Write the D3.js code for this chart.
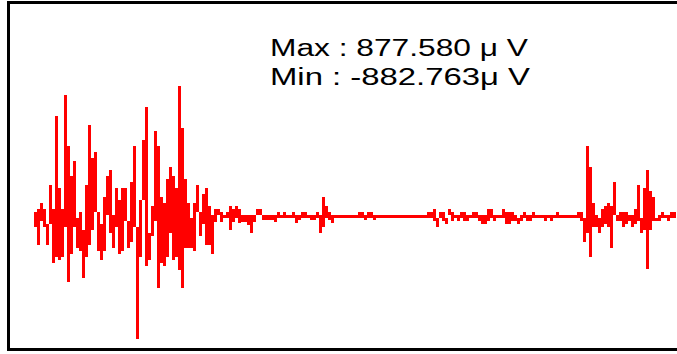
<!DOCTYPE html>
<html>
<head>
<meta charset="utf-8">
<script src="https://cdn.jsdelivr.net/npm/d3@7"></script>
<style>
  html, body { margin: 0; padding: 0; background: #fff; }
  svg { display: block; }
</style>
</head>
<body>
<svg id="chart" width="677" height="354"></svg>
<script>
// Per-pixel-column envelope of the waveform (μV): upper and lower value in each column
const columnMax = [
  -10, 12, 54, 12, -94, 180, 12, 666, 159, 12,
  814, 455, 244, 350, -52, -10, -136, 180, 603, 371,
  413, -10, -94, 96, 244, 286, -31, 159, 75, 159,
  159, -73, 202, 455, -115, 75, 497, 730, -158, 33,
  561, 455, 96, 54, 223, 307, 244, 159, 877.58, 582,
  223, 54, -52, 54, 180, -10, 117, 159, 33, -31,
  12, 12, -10, -31, -10, 33, 12, 33, 12, -31,
  -31, -31, -31, -31, 12, 12, -31, -31, -31, -31,
  -31, -10, -31, -10, -31, -31, -10, -31, -31, -10,
  -10, -31, -31, -31, -10, -31, 96, 33, -10, -31,
  -31, -31, -31, -31, -31, -31, -31, -31, -10, -10,
  -31, -10, -10, -31, -31, -31, -31, -31, -31, -31,
  -31, -31, -31, -31, -31, -31, -31, -31, -31, -31,
  -31, -10, -10, 12, -52, -10, -10, -52, 12, -10,
  -31, -31, -10, -10, -31, -31, -10, -10, -31, -31,
  -31, 12, 12, -31, -31, -31, 12, -10, -10, -10,
  -31, -52, -31, -10, -31, -31, -10, -31, -31, -31,
  -31, -31, -31, -31, -10, -31, -31, -31, -31, -31,
  -31, -10, -10, -52, 455, 307, 54, -31, -52, 12,
  33, 54, 33, 202, -31, -10, -10, -10, -31, -31,
  12, 180, -52, 159, 286, 138, 96, -52, -31, -10,
  -31, -31, -10, -10
];
const columnMin = [
  -94, -221, -52, -94, -221, -73, -348, -305, -327, -305,
  -94, -481, -284, -94, -242, -263, -453, -305, -221, -115,
  12, -263, -327, -263, -10, -136, -242, -94, -284, -263,
  -52, -242, -200, -94, -882.763, -305, 96, -369, -327, -158,
  -52, -524, -348, -369, -305, -136, -327, -305, -397, -524,
  -242, -242, -242, -263, 12, -158, -73, -221, -221, -284,
  -59, -10, -59, -31, -31, -115, -59, -31, -66, -59,
  -59, -80, -136, -59, -10, -10, -45, -45, -45, -45,
  -59, -31, -31, -31, -31, -31, -31, -66, -45, -31,
  -31, -31, -45, -45, -31, -136, -94, -31, -45, -66,
  -31, -31, -31, -31, -31, -31, -31, -31, -31, -31,
  -45, -31, -31, -45, -31, -31, -31, -31, -31, -31,
  -31, -31, -31, -31, -31, -31, -31, -31, -31, -31,
  -31, -31, -31, -52, -94, -31, -52, -73, -10, -52,
  -31, -52, -31, -52, -52, -31, -31, -31, -52, -73,
  -73, -52, -31, -52, -31, -31, -31, -73, -73, -52,
  -52, -73, -52, -31, -52, -52, -31, -31, -31, -31,
  -52, -31, -52, -31, -31, -31, -31, -31, -31, -31,
  -31, -31, -52, -200, -136, -305, -94, -94, -136, -94,
  -73, -94, -242, -10, -52, -52, -94, -73, -52, -94,
  -73, -52, -136, -115, -390, -115, -52, -52, -52, -31,
  -31, -52, -31, -31
];
const maxValue = 877.580;
const minValue = -882.763;
const labelLines = ["Max : 877.580 \u03bc V", "Min : -882.763\u03bc V"];

const svg = d3.select("#chart");
const N = columnMax.length;
const stroke = 3;

const x = d3.scaleLinear().domain([0, N]).range([34, 34 + 3 * N]);
const y = d3.scaleLinear().domain([minValue, maxValue]).range([337.5, 87.5]);

svg.append("rect").attr("width", 677).attr("height", 354).attr("fill", "#fff");

// waveform columns
svg.append("g")
  .attr("shape-rendering", "crispEdges")
  .selectAll("rect")
  .data(d3.range(N))
  .join("rect")
  .attr("x", i => x(i))
  .attr("width", i => x(i + 1) - x(i))
  .attr("y", i => y(columnMax[i]) - stroke / 2)
  .attr("height", i => y(columnMin[i]) - y(columnMax[i]) + stroke)
  .attr("fill", "#ff0000");

// frame
svg.append("rect")
  .attr("x", 8.5).attr("y", 2.5)
  .attr("width", 720).attr("height", 347)
  .attr("fill", "none")
  .attr("stroke", "#000")
  .attr("stroke-width", 3)
  .attr("shape-rendering", "crispEdges");

// labels
const baselines = [56, 85];
const widths = [258, 260];
svg.selectAll("text.lbl")
  .data(labelLines)
  .join("text")
  .attr("class", "lbl")
  .attr("x", 270)
  .attr("y", (d, i) => baselines[i])
  .attr("textLength", (d, i) => widths[i])
  .attr("lengthAdjust", "spacingAndGlyphs")
  .attr("font-family", "'Liberation Sans', Arial, sans-serif")
  .attr("font-size", 23)
  .attr("fill", "#000")
  .text(d => d);
</script>
</body>
</html>
